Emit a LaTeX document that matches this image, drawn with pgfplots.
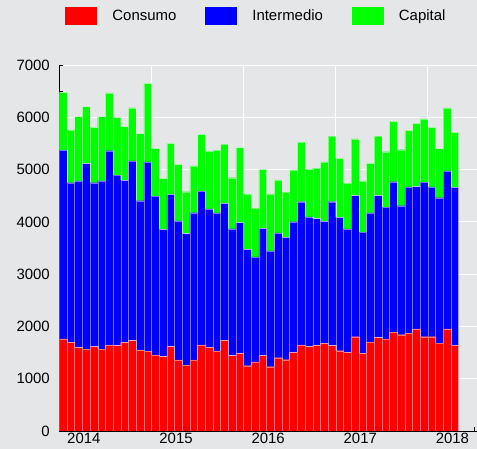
\documentclass[border=0pt]{standalone}
\usepackage{fontspec}
\setmainfont{Liberation Sans}
\usepackage{pgfplots}
\usepackage{pgfplotstable}
\pgfplotsset{compat=1.18}
\definecolor{bg}{RGB}{229,230,232}
\definecolor{cred}{RGB}{255,0,0}
\definecolor{cblue}{RGB}{0,0,255}
\definecolor{cgreen}{RGB}{0,255,0}

\pgfplotstableread{
i C I K
0 1760 3614 1104
1 1696 3053 1008
2 1600 3182 1230
3 1568 3545 1090
4 1613 3136 1059
5 1568 3214 1230
6 1645 3716 1104
7 1632 3264 1104
8 1696 3098 1027
9 1728 3436 1014
10 1549 2856 1282
11 1530 3615 1505
12 1454 3040 913
13 1422 2436 975
14 1613 2914 975
15 1358 2659 1084
16 1262 2512 803
17 1358 2817 894
18 1645 2945 1084
19 1600 2646 1109
20 1530 2640 1204
21 1734 2621 1134
22 1441 2423 981
23 1486 2499 1434
24 1249 2226 1058
25 1320 2008 937
26 1441 2436 1128
27 1230 2213 1090
28 1402 2385 1014
29 1364 2341 866
30 1505 2498 989
31 1645 2741 1141
32 1613 2480 912
33 1639 2422 969
34 1677 2333 1135
35 1632 2754 1256
36 1536 2551 1128
37 1505 2359 879
38 1804 2697 1084
39 1486 2320 976
40 1702 2468 950
41 1785 2716 1141
42 1760 2524 1058
43 1893 2875 1155
44 1842 2467 1071
45 1874 2793 1084
46 1951 2722 1212
47 1804 2958 1205
48 1804 2863 1141
49 1683 2779 938
50 1951 3022 1205
51 1639 3022 1052
}\datatable

\pgfplotsset{mylegend/.style={legend image code/.code={\fill[##1,draw=none] (0bp,-9bp) rectangle (32bp,9bp);}}}

\begin{document}
\begin{tikzpicture}
\fill[bg] (0,0) rectangle (477bp,449bp);
\useasboundingbox (0,0) rectangle (477bp,449bp);
\begin{axis}[
  at={(59.3bp,18bp)}, anchor=south west,
  scale only axis, width=417.7bp, height=366bp,
  xmin=-0.5, xmax=53.9, ymin=0, ymax=7000,
  ybar stacked, bar width=1,
  axis x line*=bottom, axis y line*=left,
  axis line style={black, line width=0.9bp},
  tick align=inside,
  xtick={2.7,14.7,26.7,38.7,50.7},
  xticklabels={2014,2015,2016,2017,2018},
  major x tick style={draw=none},
  minor xtick={5.5,17.5,29.5,41.5,53.5},
  extra x ticks={11.5,23.5,35.5,47.5},
  extra x tick labels={},
  extra x tick style={grid=major},
  ytick={0,1000,...,7000},
  minor ytick={500,1500,...,6500},
  ymajorgrids,
  grid style={white, line width=1bp},
  tick style={black, line width=0.7bp},
  major tick length=4bp, minor tick length=4bp,
  ticklabel style={font=\fontsize{15}{18}\selectfont},
  /pgf/number format/assume math mode=true,
  /pgf/number format/1000 sep={},
  yticklabel style={xshift=-6bp},
  xticklabel style={yshift=1bp},
  legend columns=3,
  legend style={at={(0.472,1.134)}, anchor=center, draw=none, fill=none,
    font=\fontsize{15}{18}\selectfont,
    /tikz/every odd column/.append style={column sep=13bp},
    /tikz/every even column/.append style={column sep=27bp}},
  mylegend,
]
\addplot[fill=cred, draw=white, draw opacity=0.45, line width=0.35bp, mylegend] table[x=i,y=C] {\datatable};
\addplot[fill=cblue, draw=white, draw opacity=0.45, line width=0.35bp, mylegend] table[x=i,y=I] {\datatable};
\addplot[fill=cgreen, draw=white, draw opacity=0.45, line width=0.35bp, mylegend] table[x=i,y=K] {\datatable};
\legend{Consumo,Intermedio,Capital}
\end{axis}
\end{tikzpicture}
\end{document}
